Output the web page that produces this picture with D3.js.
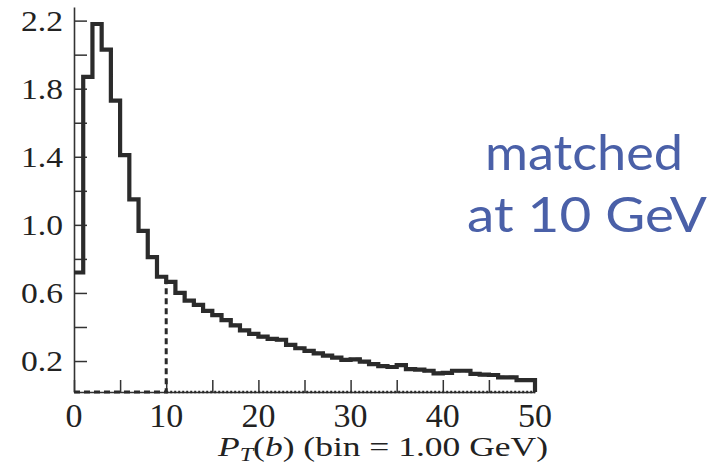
<!DOCTYPE html>
<html>
<head>
<meta charset="utf-8">
<script src="https://cdn.jsdelivr.net/npm/d3@7"></script>
<style>
  html, body { margin: 0; padding: 0; background: #fff; }
  svg { display: block; }
</style>
</head>
<body>
<svg id="chart" width="720" height="467"></svg>
<script>
// b-quark transverse momentum, 1 GeV bins from 0 to 50 GeV
const binEdgeLow = 0;
const binWidth = 1.0;
const matchingScale = 10; // GeV

// merged spectrum (solid histogram), one value per bin
const spectrum = [
  0.72, 1.87, 2.18, 2.03, 1.73, 1.41, 1.15, 0.965, 0.81, 0.695,
  0.665, 0.60, 0.555, 0.53, 0.495, 0.47, 0.44, 0.41, 0.38, 0.36,
  0.343, 0.33, 0.325, 0.295, 0.275, 0.26, 0.245, 0.232, 0.22, 0.207,
  0.21, 0.196, 0.182, 0.17, 0.165, 0.176, 0.152, 0.15, 0.143, 0.128,
  0.13, 0.143, 0.143, 0.124, 0.12, 0.118, 0.104, 0.104, 0.088, 0.088
];

// matrix-element part: empty below the matching scale
const matrixElement = [
  0, 0, 0, 0, 0, 0, 0, 0, 0, 0,
  0.665, 0.60, 0.555, 0.53, 0.495, 0.47, 0.44, 0.41, 0.38, 0.36,
  0.343, 0.33, 0.325, 0.295, 0.275, 0.26, 0.245, 0.232, 0.22, 0.207,
  0.21, 0.196, 0.182, 0.17, 0.165, 0.176, 0.152, 0.15, 0.143, 0.128,
  0.13, 0.143, 0.143, 0.124, 0.12, 0.118, 0.104, 0.104, 0.088, 0.088
];

// shower part above the matching scale (bins 10..49)
const showerTail = [
  0, 0, 0, 0, 0, 0, 0, 0, 0, 0,
  0, 0, 0, 0, 0, 0, 0, 0, 0, 0,
  0, 0, 0, 0, 0, 0, 0, 0, 0, 0,
  0, 0, 0, 0, 0, 0, 0, 0, 0, 0
];

const xTicks = [0, 5, 10, 15, 20, 25, 30, 35, 40, 45, 50];
const xTickLabels = [0, 10, 20, 30, 40, 50];
const yTicks = [0.2, 0.4, 0.6, 0.8, 1.0, 1.2, 1.4, 1.6, 1.8, 2.0, 2.2];
const yTickLabels = [0.2, 0.6, 1.0, 1.4, 1.8, 2.2];
const xTitleParts = ["P", "T", "(", "b", ") (bin = 1.00 GeV)"];
const noteLines = ["matched", "at 10 GeV"];

const svg = d3.select("#chart");

const x = d3.scaleLinear().domain([0, 50]).range([74, 535]);
const y = d3.scaleLinear().domain([0.018, 2.28]).range([392, 7]).clamp(true);

// turn per-bin values into step-path points, closing down to zero at the right edge
function stepPoints(values, firstBin) {
  const pts = values.map((v, i) => [binEdgeLow + (firstBin + i) * binWidth, v]);
  pts.push([binEdgeLow + (firstBin + values.length) * binWidth, 0]);
  return pts;
}
const stepLine = d3.line()
  .x(d => x(d[0]))
  .y(d => y(d[1]))
  .curve(d3.curveStepAfter);

// axes: ticks point inwards, no labels from the generator
const yAxis = d3.axisLeft(y).tickValues(yTicks).tickSize(-13).tickSizeOuter(0).tickFormat("");
const xAxis = d3.axisBottom(x).tickValues(xTicks).tickSize(-12).tickSizeOuter(0).tickFormat("");

const gy = svg.append("g").attr("transform", `translate(${x(0)},0)`).call(yAxis);
const gx = svg.append("g").attr("transform", `translate(0,${y.range()[0]})`).call(xAxis);
[gx, gy].forEach(g => {
  g.selectAll("path.domain").attr("stroke", "#333").attr("stroke-width", 1.6);
  g.selectAll(".tick line").attr("stroke", "#333").attr("stroke-width", 1.5);
});

// shower tail above the cut (dotted)
svg.append("path")
  .attr("d", stepLine(stepPoints(showerTail, matchingScale)))
  .attr("fill", "none")
  .attr("stroke", "#2a2a2a")
  .attr("stroke-width", 2.6)
  .attr("stroke-dasharray", "2,2");

// matrix-element contribution (dashed)
svg.append("path")
  .attr("d", stepLine(stepPoints(matrixElement, 0)))
  .attr("fill", "none")
  .attr("stroke", "#2a2a2a")
  .attr("stroke-width", 3)
  .attr("stroke-dasharray", "6,4");

// full merged spectrum (solid)
svg.append("path")
  .attr("d", stepLine(stepPoints(spectrum, 0)))
  .attr("fill", "none")
  .attr("stroke", "#2b2b2b")
  .attr("stroke-width", 4.2)
  .attr("stroke-linejoin", "miter");

// tick labels
const serif = "'Liberation Serif', 'DejaVu Serif', serif";
svg.append("g").selectAll("text")
  .data(yTickLabels)
  .join("text")
  .attr("x", 63)
  .attr("y", d => y(d) + 10)
  .attr("text-anchor", "end")
  .attr("font-family", serif)
  .attr("font-size", 29)
  .attr("fill", "#222")
  .attr("textLength", 42)
  .attr("lengthAdjust", "spacingAndGlyphs")
  .text(d => d.toFixed(1));

svg.append("g").selectAll("text")
  .data(xTickLabels)
  .join("text")
  .attr("x", d => x(d))
  .attr("y", 427)
  .attr("text-anchor", "middle")
  .attr("font-family", serif)
  .attr("font-size", 34)
  .attr("fill", "#222")
  .text(d => d);

// axis title
const title = svg.append("text")
  .attr("x", 218)
  .attr("y", 456)
  .attr("font-family", serif)
  .attr("font-size", 28)
  .attr("fill", "#222")
  .attr("textLength", 330)
  .attr("lengthAdjust", "spacingAndGlyphs");
title.append("tspan").attr("font-style", "italic").text(xTitleParts[0]);
title.append("tspan").attr("font-style", "italic").attr("font-size", 19).attr("dy", 5).text(xTitleParts[1]);
title.append("tspan").attr("dy", -5).text(xTitleParts[2]);
title.append("tspan").attr("font-style", "italic").text(xTitleParts[3]);
title.append("tspan").text(xTitleParts[4]);

// annotation
const note = svg.append("g")
  .attr("font-family", "Lato, 'Open Sans', sans-serif")
  .attr("font-size", 48)
  .attr("fill", "#4a60a8");
note.append("text").attr("x", 485).attr("y", 170)
  .attr("textLength", 198).attr("lengthAdjust", "spacingAndGlyphs").text(noteLines[0]);
note.append("text").attr("x", 467).attr("y", 232)
  .attr("textLength", 240).attr("lengthAdjust", "spacingAndGlyphs").text(noteLines[1]);
</script>
</body>
</html>
